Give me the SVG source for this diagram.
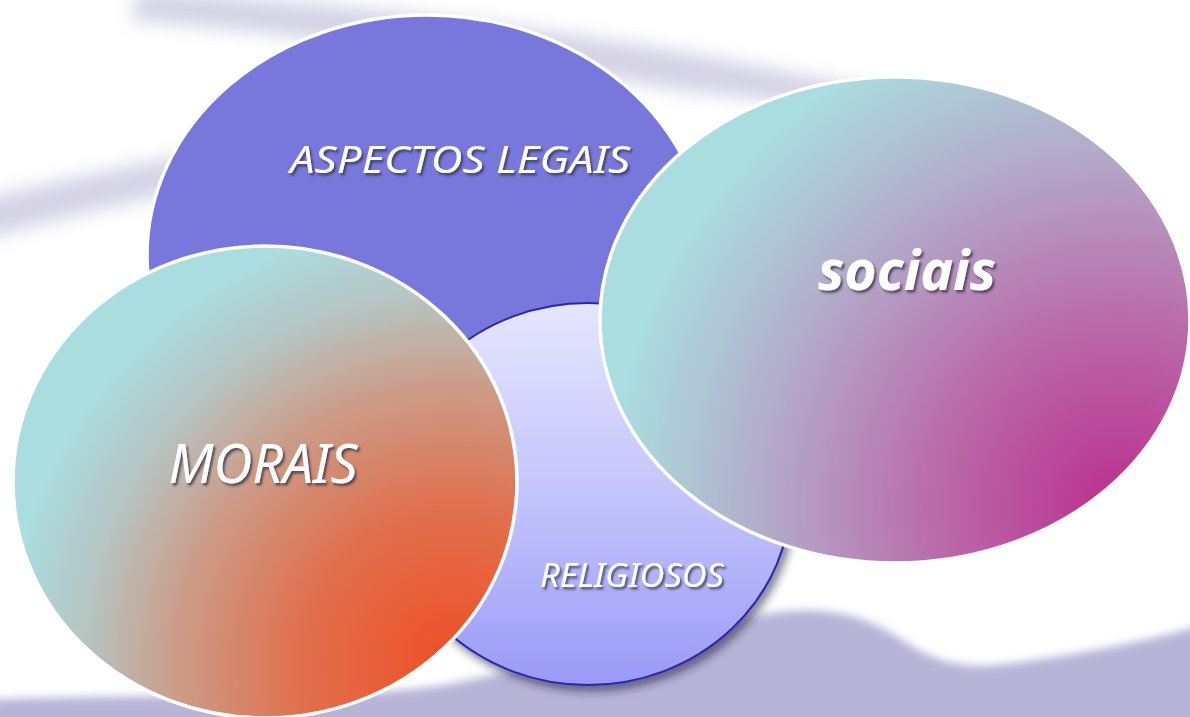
<svg xmlns="http://www.w3.org/2000/svg" width="1190" height="717" viewBox="0 0 1190 717">
<defs>
<style>
.lbl{font-family:"Noto Sans","DejaVu Sans",sans-serif;font-style:italic;fill:#ffffff;filter:url(#ts);}
.ring{stroke:#ffffff;stroke-width:3.5;}
</style>
<filter id="blur" x="-20%" y="-50%" width="140%" height="200%"><feGaussianBlur stdDeviation="9"/></filter>
<filter id="blur2" x="-20%" y="-50%" width="140%" height="200%"><feGaussianBlur stdDeviation="4"/></filter>
<filter id="ts" x="-10%" y="-30%" width="120%" height="160%"><feDropShadow dx="2" dy="2.5" stdDeviation="1.3" flood-color="#303040" flood-opacity="0.75"/></filter>
<filter id="sh" x="-20%" y="-20%" width="140%" height="140%"><feDropShadow dx="4" dy="6" stdDeviation="4" flood-color="#202040" flood-opacity="0.55"/></filter>
<radialGradient id="gMor" gradientUnits="userSpaceOnUse" cx="455" cy="665" r="450">
<stop offset="0" stop-color="#f04e24"/>
<stop offset="0.35" stop-color="#e0704e"/>
<stop offset="0.62" stop-color="#cc9c88"/>
<stop offset="0.82" stop-color="#b6c4c2"/>
<stop offset="1" stop-color="#aadde0"/>
</radialGradient>
<radialGradient id="gSoc" gradientUnits="userSpaceOnUse" cx="1120" cy="505" r="510">
<stop offset="0" stop-color="#b9308c"/>
<stop offset="0.35" stop-color="#ba68a8"/>
<stop offset="0.65" stop-color="#b4a2c6"/>
<stop offset="0.85" stop-color="#aec6d4"/>
<stop offset="1" stop-color="#aadde0"/>
</radialGradient>
<linearGradient id="gRel" x1="0" y1="0" x2="0" y2="1">
<stop offset="0" stop-color="#e6e6fe"/>
<stop offset="0.5" stop-color="#c4c4fc"/>
<stop offset="1" stop-color="#9a9af6"/>
</linearGradient>
</defs>
<rect width="1190" height="717" fill="#ffffff"/>
<g id="background">
<path d="M140,-10 C300,0 500,20 700,55 C800,75 880,90 950,100 L940,115 C850,110 760,100 680,90 C500,60 300,35 130,20 Z" fill="#cfcfe4" filter="url(#blur)" opacity="0.9"/>
<path d="M-20,200 C80,175 200,150 300,140 L300,170 C200,185 90,210 -20,240 Z" fill="#cfcfe4" filter="url(#blur)" opacity="0.9"/>
<path d="M-10,700 C150,692 350,702 450,684 C560,662 660,628 780,612 C850,604 885,628 915,648 C945,666 975,668 1005,664 C1080,655 1150,640 1200,626 L1200,730 L-10,730 Z" fill="#b8b4d8" filter="url(#blur2)"/>
</g>
<g id="node-aspectos">
<ellipse cx="427" cy="255" rx="280" ry="240" fill="#7878dc" class="ring"/>
<text class="lbl" x="460" y="173" font-size="38" text-anchor="middle" textLength="340" lengthAdjust="spacingAndGlyphs">ASPECTOS LEGAIS</text>
</g>
<g id="node-religiosos">
<ellipse cx="588" cy="494" rx="203" ry="191" fill="url(#gRel)" stroke="#2828b0" stroke-width="2" filter="url(#sh)"/>
<text class="lbl" x="632" y="587" font-size="33" text-anchor="middle" textLength="184" lengthAdjust="spacingAndGlyphs">RELIGIOSOS</text>
</g>
<g id="node-morais">
<ellipse cx="265" cy="482" rx="252" ry="236" fill="url(#gMor)" class="ring"/>
<text class="lbl" x="263" y="483" font-size="55" text-anchor="middle" textLength="189" lengthAdjust="spacingAndGlyphs">MORAIS</text>
</g>
<g id="node-sociais">
<ellipse cx="895" cy="320" rx="295" ry="243" fill="url(#gSoc)" class="ring"/>
<text class="lbl" x="907" y="290" font-size="56" font-weight="bold" text-anchor="middle" textLength="178" lengthAdjust="spacingAndGlyphs">sociais</text>
</g>
<g id="connectors"/>
</svg>
